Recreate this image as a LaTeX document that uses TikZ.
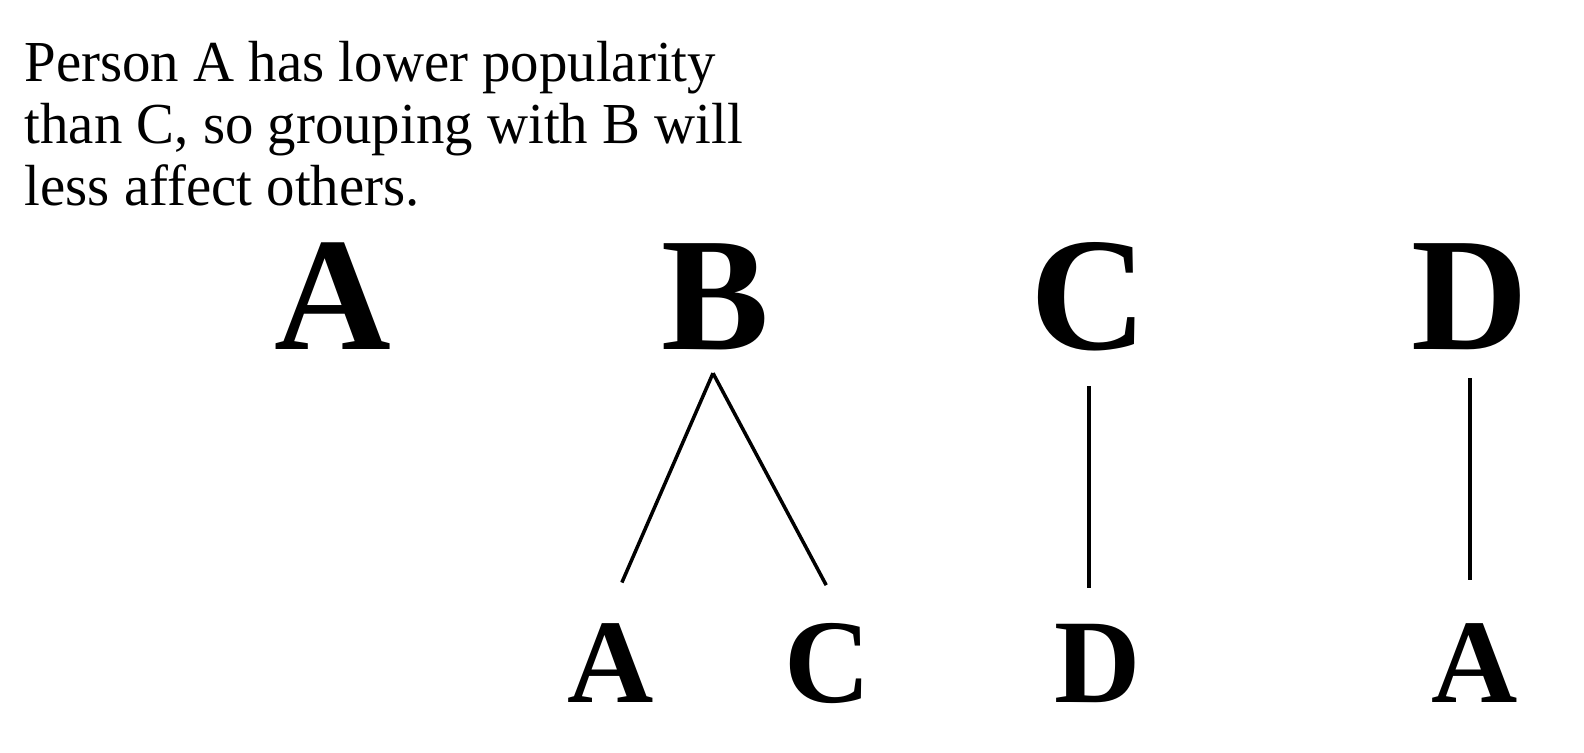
\documentclass[tikz,border=0pt]{standalone}
\usepackage{fontspec}
\setmainfont{Liberation Serif}
\newfontfamily\notefont[FakeStretch=0.98]{Liberation Serif}
\usetikzlibrary{positioning}
\begin{document}
\begin{tikzpicture}[
  big/.style={font=\fontsize{46}{46}\selectfont\bfseries, inner sep=0pt, anchor=base},
  small/.style={font=\fontsize{34}{34}\selectfont\bfseries, inner sep=0pt, anchor=base},
  link/.style={line width=1pt}
]
  \useasboundingbox (0,0) rectangle (15.84,7.52);

  % Note
  \node[anchor=north west, inner sep=0pt, align=left, font=\notefont\fontsize{16.5}{17.6}\selectfont] (note) at (0.24,7.11) {
    Person A has lower popularity\\
    than C, so grouping with B will\\
    less affect others.
  };

  % People
  \node[big] (topA) at (3.33,4.03) {A};
  \node[big] (topB) at (7.15,4.03) {B};
  \node[big] (topC) at (10.89,4.03) {C};
  \node[big] (topD) at (14.70,4.03) {D};

  % Groups
  \node[small] (botA) at (6.11,0.50) {A};
  \node[small] (botC) at (8.28,0.50) {C};
  \node[small] (botD) at (10.98,0.50) {D};
  \node[small] (botA2) at (14.75,0.50) {A};

  \coordinate[below=0.23cm of topB.south, xshift=-0.02cm] (fork);

  \draw[link, shorten >=0.435cm] (fork) -- ([xshift=-0.065cm]botA.north);
  \draw[link, shorten >=0.42cm] (fork) -- ([xshift=0.18cm]botC.north);
  \draw[link, shorten <=0.35cm, shorten >=0.35cm] (topC.south) -- (topC.south |- botD.north);
  \draw[link, shorten <=0.28cm, shorten >=0.42cm] (topD.south) -- (topD.south |- botA2.north);
\end{tikzpicture}
\end{document}
